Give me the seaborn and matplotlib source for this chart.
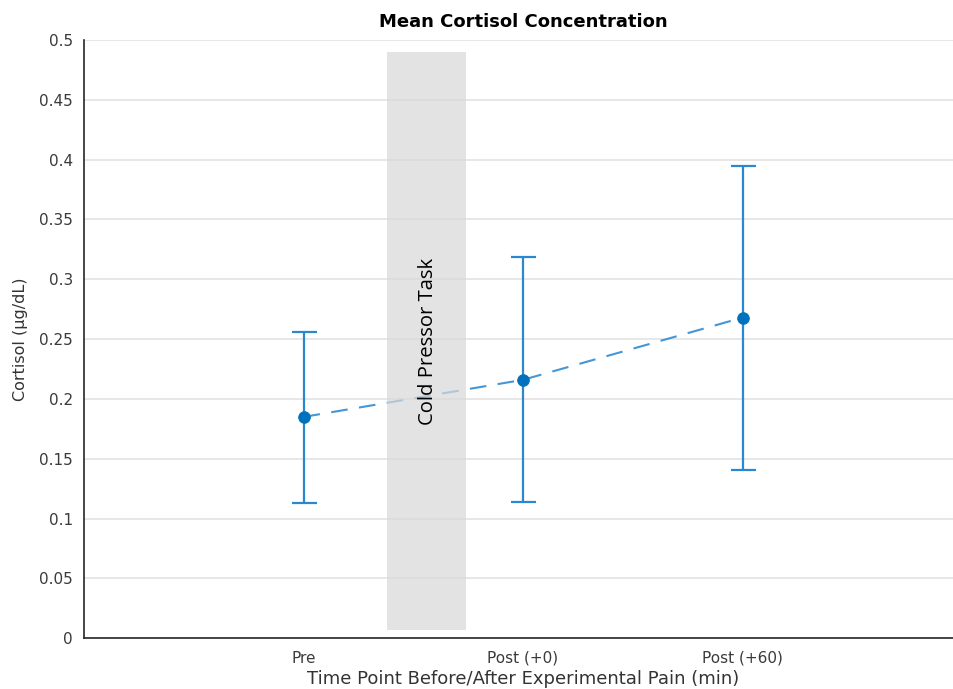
import numpy as np
import pandas as pd
import matplotlib
matplotlib.use("Agg")
import matplotlib.pyplot as plt
import seaborn as sns

# Cortisol means and error-bar ends per time point
time_labels = ["Pre", "Post (+0)", "Post (+60)"]
time_pos = [1, 2, 3]
cortisol_mean = [0.185, 0.216, 0.268]
cortisol_upper = [0.256, 0.319, 0.395]
cortisol_lower = [0.113, 0.114, 0.141]

# Shaded interval for the cold pressor task
task_x = [1.38, 1.74]
task_y = [0.007, 0.49]
task_label = "Cold Pressor Task"

y_ticks = [0, 0.05, 0.1, 0.15, 0.2, 0.25, 0.3, 0.35, 0.4, 0.45, 0.5]
y_tick_labels = ["0", "0.05", "0.1", "0.15", "0.2", "0.25", "0.3", "0.35", "0.4", "0.45", "0.5"]

sns.set_style("white")
plt.rcParams["font.family"] = ["DejaVu Sans"]

df = pd.DataFrame({"t": time_pos, "cortisol": cortisol_mean})

fig = plt.figure(figsize=(9.54, 6.89), dpi=100)
ax = fig.add_axes([84 / 954, 1 - 638.3 / 689, (962 - 84) / 954, (638.3 - 40) / 689])

line_color = "#0072BD"
err_lo = np.array(cortisol_mean) - np.array(cortisol_lower)
err_hi = np.array(cortisol_upper) - np.array(cortisol_mean)
ax.errorbar(time_pos, cortisol_mean, yerr=[err_lo, err_hi], fmt="none",
            ecolor="#2b88cf", elinewidth=1.6, capsize=9, capthick=1.6, zorder=3)
sns.lineplot(data=df, x="t", y="cortisol", ax=ax, color="#4496d6",
             linestyle=(0, (8, 5.5)), linewidth=1.5, zorder=3)
sns.scatterplot(data=df, x="t", y="cortisol", ax=ax, color=line_color,
                s=70, edgecolor=line_color, zorder=4)

ax.fill_between(task_x, task_y[0], task_y[1], color="#d9d9d9", alpha=0.72,
                linewidth=0, zorder=5)
ax.text(1.565, 0.248, task_label, rotation=90, ha="center", va="center",
        fontsize=14.6, color="black", family=["Open Sans", "DejaVu Sans"], zorder=6)

ax.set_xlim(0, 4)
ax.set_ylim(0, 0.5)
ax.set_xticks(time_pos)
ax.set_xticklabels(time_labels)
ax.set_yticks(y_ticks)
ax.set_yticklabels(y_tick_labels)
ax.grid(axis="y", color="#e3e3e3", linewidth=1.2)
ax.set_axisbelow(True)

for side in ["top", "right"]:
    ax.spines[side].set_visible(False)
for side in ["left", "bottom"]:
    ax.spines[side].set_color("#262626")
    ax.spines[side].set_linewidth(1.2)

ax.tick_params(axis="both", direction="in", length=5, width=1, colors="#262626",
               labelsize=11, labelcolor="#3a3a3a")
ax.tick_params(axis="x", pad=9)
ax.tick_params(axis="y", pad=8)

ax.set_xlabel("Time Point Before/After Experimental Pain (min)", fontsize=13,
              color="#333333", labelpad=3)
ax.set_ylabel("Cortisol (\u00b5g/dL)", fontsize=11.5, color="#333333", labelpad=8)
fig.text(523 / 954, 1 - 22 / 689, "Mean Cortisol Concentration", ha="center",
         va="center", fontsize=13, fontweight="bold", color="black")

fig.savefig("out.png", dpi=100, facecolor="white")
